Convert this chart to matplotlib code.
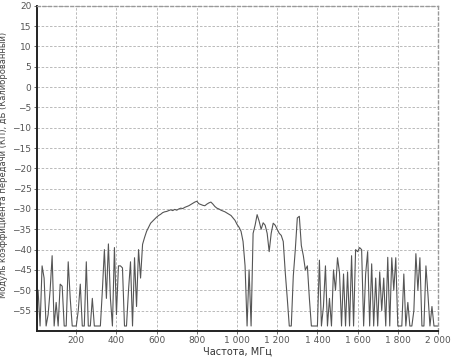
import numpy as np
import matplotlib
matplotlib.use("Agg")
import matplotlib.pyplot as plt
from matplotlib.ticker import FuncFormatter

F = -58.8  # noise floor

freq = np.arange(10, 2001, 10)
gain = [
    -50, F, -44, -47, F, -56, -50, -41.5, F, -53,              # 10-100
    F, -48.5, -49, F, F, -43, -52, F, F, F,                    # 110-200
    -55, -48.5, F, F, -43, F, F, -52, F, F,                    # 210-300
    F, F, -50, -40, -52, -38.6, -52, F, -39.5, -56,            # 310-400
    -44, -44, -44.5, F, F, -50, -43, F, -42, -54,              # 410-500
    -40, -47, -38.7, -37, -35.5, -34.5, -33.5, -33, -32.5, -32,  # 510-600
    -31.6, -31.3, -30.9, -30.7, -30.6, -30.4, -30.2, -30.4, -30.1, -30.3,  # 610-700
    -30, -29.8, -29.9, -29.6, -29.4, -29.2, -28.9, -28.6, -28.3, -28.1,    # 710-800
    -28.7, -28.9, -29.1, -29.2, -28.8, -28.5, -28.3, -28.8, -29.4, -29.8,  # 810-900
    -30.0, -30.3, -30.5, -30.7, -31.0, -31.3, -31.6, -32.2, -32.8, -33.8,  # 910-1000
    -34.5, -35.5, -38, -44, F, -45, F, -36, -34, -31.4,        # 1010-1100
    -33, -35, -33.4, -34, -36, -40.5, -36, -33.5, -34, -35,    # 1110-1200
    -36, -36.5, -38, -45.6, -52, F, F, -46.5, -40, -32.2,      # 1210-1300
    -31.8, -39, -41.5, -45, -44, -52, F, F, F, F,              # 1310-1400
    -42.6, F, -54, -44, F, -52, F, -45, -50, -42,              # 1410-1500
    -45.7, F, -46, F, -45.5, F, -41.5, F, -40, -40.5,          # 1510-1600
    -39.5, -40, F, -46, -40.5, F, -43.5, F, -47, F,            # 1610-1700
    -45.5, -55, -47, F, -41.9, F, -42, -50, -42, F,            # 1710-1800
    F, F, -46, F, -53, F, F, -55, -41, -50,                    # 1810-1900
    -42, F, F, -44, -51, F, -54, F, F, F,                      # 1910-2000
]

xticks = [200, 400, 600, 800, 1000, 1200, 1400, 1600, 1800, 2000]
yticks = [20, 15, 10, 5, 0, -5, -10, -15, -20, -25, -30, -35, -40, -45, -50, -55]

fig = plt.figure(figsize=(4.52, 3.64), dpi=100)
ax = fig.add_axes([0.082, 0.091, 0.887, 0.893])

ax.plot(freq, gain, color="#555555", lw=0.8)

ax.set_xlim(5, 2000)
ax.set_ylim(-60, 20)
ax.set_xticks(xticks)
ax.set_yticks(yticks)
ax.xaxis.set_major_formatter(FuncFormatter(lambda v, p: f"{int(v):,}".replace(",", " ")))
ax.grid(True, color="#b0b0b0", linestyle=(0, (3, 2)), linewidth=0.6)

ax.tick_params(labelsize=6.5, colors="#555555", length=2, width=0.6, pad=2)
for s in ["left", "bottom"]:
    ax.spines[s].set_color("#222222")
    ax.spines[s].set_linewidth(1.4)
for s in ["top", "right"]:
    ax.spines[s].set_color("#999999")
    ax.spines[s].set_linestyle((0, (2, 2)))
    ax.spines[s].set_linewidth(1.0)

ax.set_xlabel("Частота, МГц", fontsize=7, color="#333333", labelpad=1)
ax.set_ylabel("Модуль коэффициента передачи (КП), дБ (Калиброванный)",
              fontsize=6, color="#444444")
ax.yaxis.set_label_coords(-0.072, 0.51)

fig.savefig("out.png", dpi=100)
